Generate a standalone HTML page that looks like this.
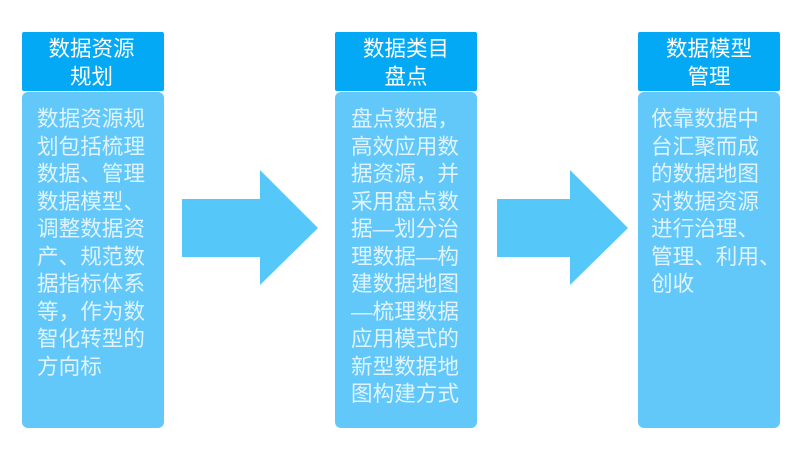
<!DOCTYPE html>
<html lang="zh">
<head>
<meta charset="utf-8">
<style>
html,body{margin:0;padding:0;background:#fff}
body{position:relative;width:795px;height:449px;overflow:hidden;font-family:"Liberation Sans","Noto Sans CJK SC",sans-serif}
.h,.b{position:absolute;box-sizing:border-box;width:142px}
.h{top:32px;height:59px;background:#03a9f4;border-radius:2px;color:#fff;text-align:center;font-size:21.5px;line-height:28px;padding-top:3px}
.b{top:92px;height:336px;background:#62c8fa;border-radius:6px;color:#dff4ff;font-size:21.6px;line-height:27.5px;padding-top:13px;white-space:nowrap}
.h span,.b span{display:block;filter:blur(.3px)}
svg{position:absolute;left:0;top:0}
</style>
</head>
<body>
<svg width="795" height="449" viewBox="0 0 795 449">
<polygon points="182,199 260,199 260,170 318,228 260,285 260,257 182,257" fill="#55c7f8"/>
<polygon points="497,199 570,199 570,170 628,228 570,285 570,257 497,257" fill="#55c7f8"/>
</svg>

<div class="h" style="left:22px"><span style="margin-left:-3px">数据资源<br>规划</span></div>
<div class="b" style="left:22px;padding-left:15px"><span>数据资源规<br>划包括梳理<br>数据、管理<br>数据模型、<br>调整数据资<br>产、规范数<br>据指标体系<br>等，作为数<br>智化转型的<br>方向标</span></div>

<div class="h" style="left:335px"><span>数据类目<br>盘点</span></div>
<div class="b" style="left:335px;padding-left:16px"><span>盘点数据，<br>高效应用数<br>据资源，并<br>采用盘点数<br>据—划分治<br>理数据—构<br>建数据地图<br>—梳理数据<br>应用模式的<br>新型数据地<br>图构建方式</span></div>

<div class="h" style="left:638px"><span>数据模型<br>管理</span></div>
<div class="b" style="left:638px;padding-left:13px"><span>依靠数据中<br>台汇聚而成<br>的数据地图<br>对数据资源<br>进行治理、<br>管理、利用、<br>创收</span></div>
</body>
</html>
